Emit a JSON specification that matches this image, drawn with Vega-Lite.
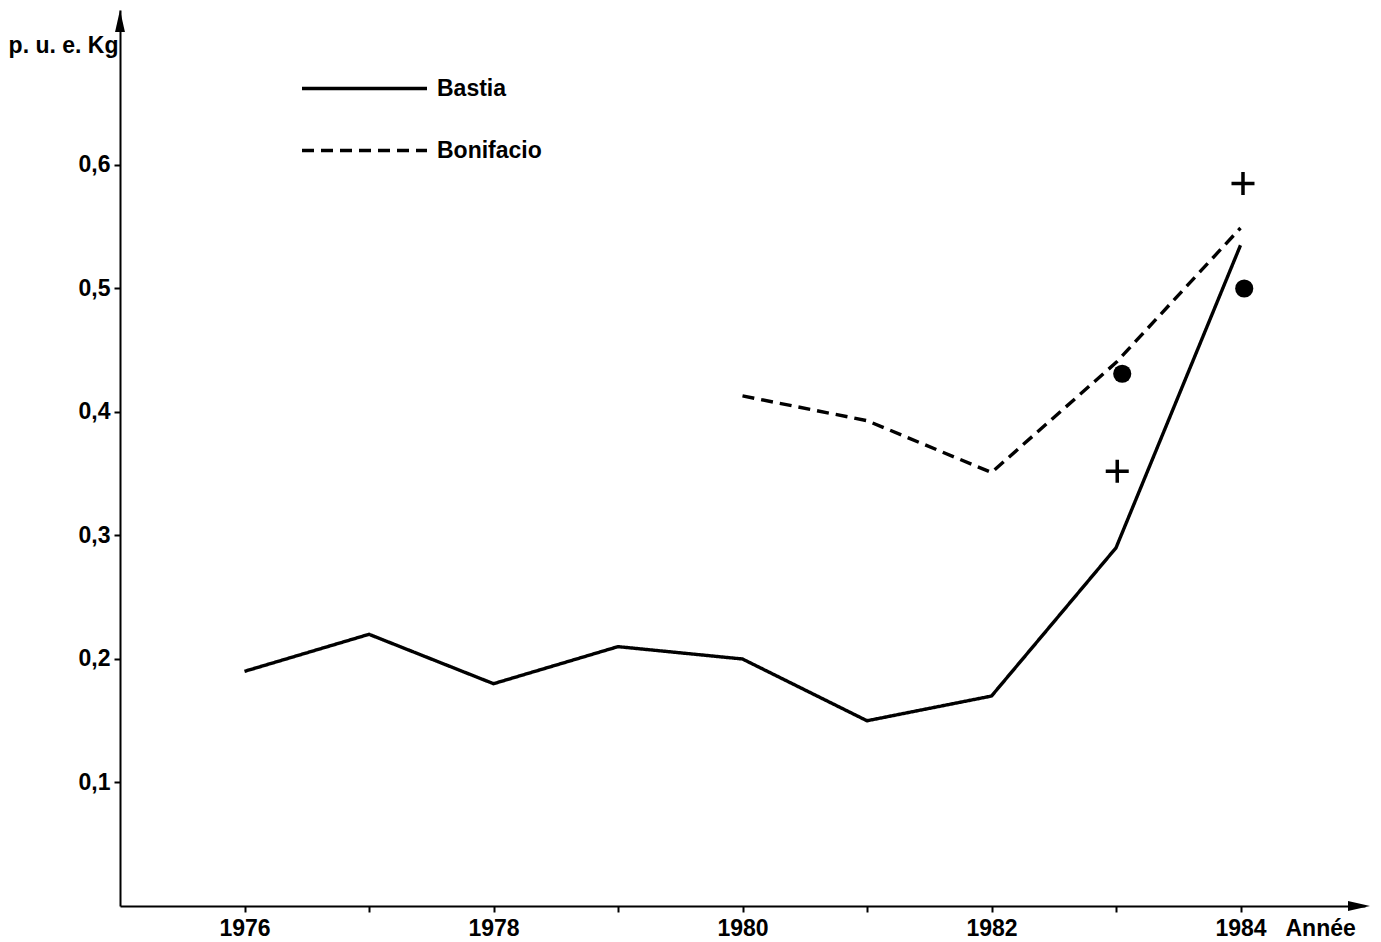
{
  "$schema": "https://vega.github.io/schema/vega-lite/v6.json",
  "width": 1245,
  "height": 896,
  "autosize": {"type": "none"},
  "padding": {"left": 120, "top": 10, "right": 16, "bottom": 36},
  "background": "white",
  "config": {
    "view": {"stroke": null},
    "font": "Liberation Sans",
    "axis": {
      "grid": false,
      "domainColor": "black",
      "domainWidth": 2,
      "tickColor": "black",
      "tickWidth": 2,
      "tickSize": 6,
      "labelFont": "Liberation Sans",
      "labelFontSize": 23,
      "labelFontWeight": "bold",
      "labelColor": "black",
      "titleFont": "Liberation Sans",
      "titleFontSize": 23,
      "titleColor": "black",
      "titleFontWeight": "bold"
    },
    "legend": {
      "title": null,
      "orient": "none",
      "symbolType": "stroke",
      "symbolSize": 15625,
      "symbolStrokeWidth": 3.4,
      "symbolStrokeColor": "black",
      "labelFont": "Liberation Sans",
      "labelFontSize": 23,
      "labelFontWeight": "bold",
      "labelColor": "black",
      "labelOffset": 8
    }
  },
  "datasets": {
    "series": [
      {"year": 1976, "value": 0.19, "series": "Bastia"},
      {"year": 1977, "value": 0.22, "series": "Bastia"},
      {"year": 1978, "value": 0.18, "series": "Bastia"},
      {"year": 1979, "value": 0.21, "series": "Bastia"},
      {"year": 1980, "value": 0.20, "series": "Bastia"},
      {"year": 1981, "value": 0.15, "series": "Bastia"},
      {"year": 1982, "value": 0.17, "series": "Bastia"},
      {"year": 1983, "value": 0.29, "series": "Bastia"},
      {"year": 1984, "value": 0.535, "series": "Bastia"},
      {"year": 1980, "value": 0.413, "series": "Bonifacio"},
      {"year": 1981, "value": 0.393, "series": "Bonifacio"},
      {"year": 1982, "value": 0.351, "series": "Bonifacio"},
      {"year": 1983, "value": 0.44, "series": "Bonifacio"},
      {"year": 1984, "value": 0.549, "series": "Bonifacio"}
    ],
    "circles": [
      {"year": 1983.05, "value": 0.431},
      {"year": 1984.03, "value": 0.5}
    ],
    "crosses": [
      {"year": 1983.01, "value": 0.352},
      {"year": 1984.02, "value": 0.585}
    ],
    "arrows": [
      {"year": 1975, "value": 0.7255, "dir": "up"},
      {"year": 1985, "value": 0, "dir": "right"}
    ]
  },
  "encoding": {
    "x": {
      "field": "year",
      "type": "quantitative",
      "scale": {"domain": [1975, 1985], "nice": false, "zero": false},
      "axis": {
        "values": [1976, 1977, 1978, 1979, 1980, 1981, 1982, 1983, 1984],
        "labelExpr": "datum.value % 2 == 0 ? datum.value : ''",
        "labelPadding": 5,
        "title": "Année",
        "titleAnchor": "start",
        "titleAlign": "left",
        "titleBaseline": "middle",
        "titleX": 1165,
        "titleY": 22
      }
    },
    "y": {
      "field": "value",
      "type": "quantitative",
      "scale": {"domain": [0, 0.7255], "nice": false},
      "axis": {
        "values": [0.1, 0.2, 0.3, 0.4, 0.5, 0.6],
        "labelExpr": "replace(format(datum.value, '.1f'), '.', ',')",
        "labelPadding": 4,
        "title": "p. u. e. Kg",
        "titleAngle": 0,
        "titleAlign": "right",
        "titleBaseline": "middle",
        "titleX": -2,
        "titleY": 35
      }
    }
  },
  "resolve": {"scale": {"strokeDash": "independent"}, "legend": {"strokeDash": "independent"}},
  "layer": [
    {
      "data": {"name": "series"},
      "transform": [{"filter": "datum.series == 'Bastia'"}],
      "mark": {"type": "line", "color": "black", "strokeWidth": 3.4},
      "encoding": {
        "strokeDash": {
          "field": "series",
          "type": "nominal",
          "scale": {"domain": ["Bastia"], "range": [[1, 0]]},
          "legend": {"orient": "none", "legendX": 180, "legendY": 14}
        }
      }
    },
    {
      "data": {"name": "series"},
      "transform": [{"filter": "datum.series == 'Bonifacio'"}],
      "mark": {"type": "line", "color": "black", "strokeWidth": 3.4},
      "encoding": {
        "strokeDash": {
          "field": "series",
          "type": "nominal",
          "scale": {"domain": ["Bonifacio"], "range": [[12, 7]]},
          "legend": {"orient": "none", "legendX": 180, "legendY": 76}
        }
      }
    },
    {
      "data": {"name": "circles"},
      "mark": {"type": "point", "shape": "circle", "filled": true, "color": "black", "size": 330, "opacity": 1}
    },
    {
      "data": {"name": "crosses"},
      "mark": {"type": "point", "shape": "M-1,0H1M0,-1V1", "filled": false, "color": "black", "strokeWidth": 3.5, "size": 529, "opacity": 1}
    },
    {
      "data": {"name": "arrows"},
      "transform": [{"filter": "datum.dir == 'up'"}],
      "mark": {"type": "point", "shape": "M0,-1L-0.45,1L0.45,1Z", "filled": true, "color": "black", "size": 484, "opacity": 1, "yOffset": 11}
    },
    {
      "data": {"name": "arrows"},
      "transform": [{"filter": "datum.dir == 'right'"}],
      "mark": {"type": "point", "shape": "M1,0L-1,-0.45L-1,0.45Z", "filled": true, "color": "black", "size": 484, "opacity": 1, "xOffset": -6}
    }
  ]
}
